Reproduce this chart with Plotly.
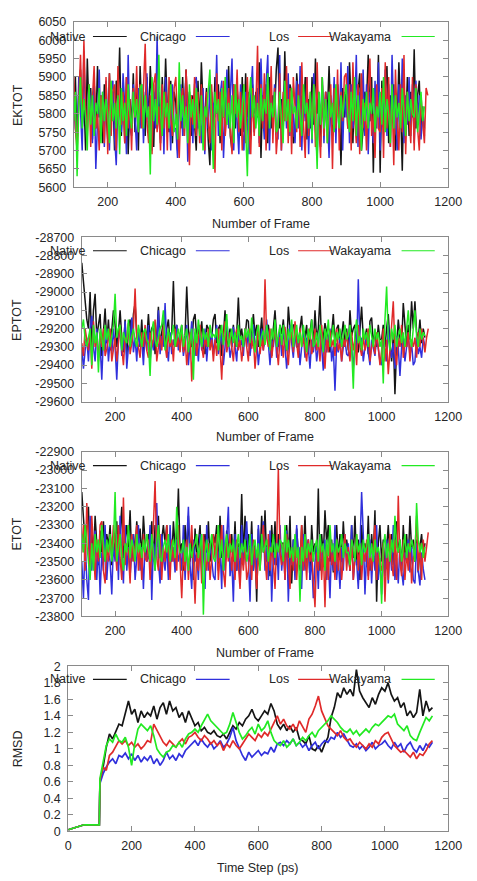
import plotly.graph_objects as go

# ---------------- data ----------------
series_names = ["Native", "Chicago", "Los", "Wakayama"]
series_colors = ["#151515", "#3030dc", "#e02a2a", "#22ea22"]

frames = list(range(100, 1131, 5))          # 207 frames
frames_los = list(range(100, 1141, 5))      # 209 frames (Los runs a bit longer)

ektot_native = [
    5780,5900,5720,5860,5920,5760,5840,5700,5950,5800,5870,5730,5890,5760,5930,5790,5850,5720,5880,5810,
    5730,5910,5780,5860,5700,5890,5820,5980,5740,5870,5720,5900,5690,5840,5770,5910,5750,5880,5700,5930,
    5800,5860,5740,5900,5770,5930,5830,5710,5880,5760,5860,5720,5900,5780,5950,5810,5750,5890,5720,5860,
    5830,5700,5880,5760,5900,5740,5920,5800,5860,5740,5850,5780,5700,5890,5760,5940,5820,5790,5870,5730,
    5660,5860,5760,5900,5800,5880,5720,5840,5790,5870,5780,5930,5740,5700,5880,5760,5870,5800,5740,5900,
    5750,5910,5790,5860,5730,5880,5800,5860,5790,5940,5680,5850,5760,5880,5720,5900,5760,5850,5800,5920,
    5980,5760,5840,5740,5970,5800,5780,5880,5860,5720,5740,5910,5830,5760,5850,5790,5900,5730,5840,5760,
    5900,5770,5950,5800,5860,5710,5880,5760,5860,5800,5930,5790,5740,5880,5760,5880,5820,5660,5870,5790,
    5870,5760,5940,5820,5720,5890,5780,5860,5910,5700,5760,5860,5830,5960,5780,5900,5640,5870,5800,5960,
    5640,5890,5770,5860,5930,5720,5850,5780,5880,5700,5760,5940,5820,5645,5880,5760,5900,5740,5860,5790,
    5975,5760,5850,5890,5740,5820,5760]
ektot_chicago = [
    5850,5760,5720,5900,5810,5700,5970,5780,5760,5880,5820,5720,5900,5650,5780,5920,5740,5860,5710,5890,
    5780,5700,5860,5890,5740,5660,5850,5790,5750,5910,5820,5690,5960,5760,5740,5880,5800,5700,5870,5760,
    5880,5720,5840,5910,5760,5800,5700,5860,5760,6010,5790,5730,5870,5690,5900,5780,5820,5700,5880,5760,
    5760,5680,5860,5880,5740,5820,5910,5670,5780,5850,5720,5880,5900,5760,5800,5720,5870,5690,5840,5760,
    5880,5700,5830,5790,5960,5740,5850,5890,5680,5800,5920,5760,5840,5950,5700,5860,5780,5690,5880,5760,
    5700,5860,5780,5690,5850,5930,5750,5820,5870,5720,5950,5800,5730,5880,5960,5700,5850,5780,5880,5760,
    5730,5960,5700,5840,5880,5760,5910,5740,5850,5800,5720,5890,5760,5930,5700,5860,5780,5900,5690,5850,
    5720,5910,5760,5680,5850,5770,5900,5720,5860,5800,5680,5850,5770,5900,5720,5880,5750,5940,5700,5860,
    5790,5930,5720,5880,5760,5800,5960,5710,5860,5770,5920,5740,5880,5690,5860,5780,5720,5890,5760,5940,
    5700,5860,5780,5920,5740,5880,5710,5960,5790,5840,5700,5880,5760,5950,5720,5850,5770,5900,5740,5880,
    5720,5890,5780,5850,5730,5800,5740]
ektot_los = [
    5900,5760,5700,5860,5960,5780,6000,5820,5740,5880,5710,5840,5930,5760,5800,5700,5850,5790,5720,5900,
    5690,5910,5740,5860,5880,5700,5930,5800,5770,5860,5720,5900,5760,5840,5700,5870,5790,5930,5750,5880,
    5760,5870,5990,5780,5720,5850,5690,5880,5910,5750,5820,5700,5880,5760,5860,5700,5900,5790,5740,5870,
    5900,5760,5680,5830,5870,5740,5920,5800,5660,5850,5770,5900,5740,5860,5720,5880,5780,5700,5860,5800,
    5720,5880,5760,5640,5910,5780,5860,5700,5890,5740,5800,5870,5760,5690,5880,5800,5920,5750,5860,5700,
    5880,5720,5900,5760,5690,5870,5740,5820,5985,5710,5880,5760,5910,5700,5860,5780,5930,5720,5870,5690,
    5760,5910,5700,5860,5780,5930,5720,5870,5690,5900,5820,5750,5880,5710,5940,5770,5680,5900,5740,5860,
    5750,5880,5710,5940,5770,5680,5900,5740,5860,5720,5800,5880,5650,5870,5760,5920,5700,5860,5780,5900,
    5910,5760,5880,5700,5940,5790,5720,5880,5690,5910,5760,5830,5700,5870,5950,5740,5800,5680,5880,5760,
    5750,5870,5680,5940,5760,5900,5710,5860,5660,5920,5780,5700,5880,5750,5960,5690,5860,5800,5720,5900,
    5700,5880,5760,5700,5850,5780,5720,5870,5850]
ektot_wakayama = [
    5780,5860,5630,5820,5900,5760,5840,5790,5700,5880,5770,5850,5740,5830,5800,5870,5720,5860,5780,5840,
    5800,5720,5890,5780,5830,5760,5850,5690,5870,5780,5830,5740,5880,5800,5760,5860,5790,5840,5750,5870,
    5880,5760,5850,5790,5820,5635,5900,5780,5840,5770,5960,5800,5740,5860,5790,5830,5760,5880,5800,5750,
    5800,5730,5940,5780,5850,5760,5820,5720,5880,5790,5840,5760,5870,5800,5740,5850,5700,5820,5790,5860,
    5920,5780,5650,5860,5800,5840,5740,5870,5790,5900,5770,5830,5760,5850,5720,5880,5790,5840,5760,5820,
    5880,5760,5630,5840,5900,5790,5850,5760,5830,5740,5870,5780,5840,5800,5910,5760,5830,5790,5860,5750,
    5760,5860,5800,5720,5890,5780,5840,5750,5870,5800,5820,5760,5850,5790,5740,5880,5800,5830,5760,5860,
    5730,5880,5790,5650,5860,5770,5900,5760,5840,5720,5860,5790,5830,5750,5880,5800,5760,5850,5790,5840,
    5880,5800,5750,5860,5780,5900,5740,5850,5790,5700,5840,5780,5860,5760,5830,5800,5870,5750,5820,5790,
    5860,5770,5900,5750,5840,5800,5720,5880,5760,5850,5790,5830,5760,5870,5800,5740,5860,5780,5840,5800,
    5790,5870,5750,5820,5860,5780,5820]

eptot_native = [
    -28840,-28950,-29050,-29150,-29200,-29000,-29300,-29100,-29010,-29250,-29180,-29120,-29350,-29200,-29090,-29280,-29150,-29320,-29200,-29100,
    -29180,-29300,-29220,-29100,-29250,-29330,-29150,-29350,-29200,-29150,-29280,-29120,-29060,-29240,-29220,-29300,-29150,-29330,-29200,-29260,
    -29120,-29260,-29200,-29180,-29340,-29240,-29080,-29300,-29220,-29160,-29300,-29200,-29150,-29280,-29220,-28940,-29250,-29180,-29300,-29230,
    -29180,-29320,-29240,-28970,-29200,-29280,-29300,-29150,-29120,-29260,-29200,-29260,-29160,-29300,-29340,-29180,-29200,-29280,-29240,-29150,
    -29120,-29280,-29200,-29180,-29350,-29240,-29100,-29300,-29260,-29200,-29300,-29180,-29300,-29230,-29030,-29250,-29200,-29300,-29250,-29150,
    -29160,-29330,-29220,-29120,-29240,-29180,-29300,-29250,-29140,-29300,-29270,-29200,-29180,-29260,-29350,-29200,-29100,-29250,-29300,-29180,
    -29230,-29150,-29280,-29320,-29080,-29200,-29260,-29180,-29180,-29300,-29300,-29200,-29130,-29280,-29250,-29180,-29340,-29220,-29150,-29300,
    -29100,-29260,-29200,-29020,-29300,-29250,-29170,-29220,-29250,-29330,-29200,-29120,-29280,-29200,-29180,-29300,-29240,-29160,-29300,-29200,
    -29320,-29100,-29240,-29200,-29180,-29300,-29330,-29200,-29080,-29260,-29250,-29200,-29340,-29160,-29140,-29280,-29220,-29300,-29180,-29260,
    -29260,-29180,-29300,-29200,-29120,-29280,-29380,-29240,-29560,-29300,-29150,-29250,-29300,-29060,-29200,-29300,-29180,-29260,-29050,-29200,
    -29050,-29220,-29260,-29150,-29280,-29200,-29250]
eptot_chicago = [
    -29300,-29420,-29320,-29250,-29380,-29200,-29130,-29300,-29380,-29200,-29360,-29280,-29480,-29240,-29320,-29200,-29380,-29260,-29340,-29200,
    -29300,-29480,-29260,-29200,-29350,-29300,-29160,-29420,-29300,-29280,-29140,-29330,-29250,-29380,-29200,-29300,-29260,-29400,-29220,-29320,
    -29180,-29380,-29260,-29320,-29200,-29300,-29100,-29340,-29240,-29300,-29060,-29300,-29380,-29220,-29340,-29260,-29300,-29180,-29320,-29250,
    -29220,-29350,-29280,-29180,-29400,-29260,-29160,-29300,-29350,-29250,-29380,-29200,-29320,-29280,-29200,-29380,-29260,-29300,-29220,-29340,
    -29260,-29180,-29340,-29280,-29220,-29400,-29300,-29150,-29280,-29360,-29300,-29190,-29300,-29380,-29220,-29300,-29260,-29350,-29200,-29300,
    -29220,-29350,-29260,-29180,-29300,-29260,-29400,-29300,-29200,-29320,-29250,-29150,-29280,-29400,-29260,-29300,-29200,-29360,-29280,-29220,
    -29350,-29200,-29300,-29420,-29300,-29180,-29280,-29360,-29220,-29300,-29240,-29400,-29300,-29220,-29360,-29250,-29300,-29420,-29260,-29330,
    -29250,-29380,-29300,-29180,-29300,-29430,-29220,-29330,-29260,-29200,-29380,-29300,-29540,-29280,-29330,-29250,-29380,-29300,-29260,-29340,
    -29350,-29200,-29300,-29420,-29280,-29320,-28930,-29300,-29250,-29380,-29300,-29220,-29330,-29400,-29260,-29300,-29350,-29240,-29300,-29380,
    -29400,-29250,-29320,-29380,-29180,-29300,-29360,-29280,-29420,-29240,-29300,-29460,-29300,-29250,-29380,-29300,-29220,-29350,-29280,-29400,
    -29380,-29240,-29340,-29300,-29360,-29250,-29300]
eptot_los = [
    -29280,-29350,-29200,-29250,-29320,-29200,-29420,-29160,-29300,-29250,-29380,-29220,-29300,-29200,-29350,-29310,-29260,-29200,-29380,-29300,
    -29250,-29380,-29280,-29180,-29300,-29400,-29250,-29260,-29170,-29340,-29280,-29200,-28980,-29250,-29300,-29360,-29220,-29300,-29180,-29320,
    -29360,-29220,-29300,-29260,-29150,-29380,-29300,-29240,-29320,-29180,-29290,-29360,-29220,-29300,-29260,-29380,-29200,-29300,-29250,-29330,
    -29200,-29330,-29250,-29400,-29300,-29220,-29490,-29300,-29220,-29350,-29260,-29180,-29300,-29360,-29250,-29300,-29200,-29320,-29260,-29380,
    -29260,-29350,-29200,-29300,-29480,-29250,-29160,-29330,-29280,-29220,-29300,-29380,-29250,-29200,-29320,-29260,-29380,-29300,-29200,-29300,
    -29380,-29200,-29310,-29250,-29420,-29300,-29180,-29340,-29260,-29320,-28930,-29250,-29300,-29200,-29360,-29280,-29190,-29300,-29400,-29250,
    -29250,-29360,-29190,-29300,-29400,-29260,-29220,-29330,-29160,-29280,-29360,-29200,-29300,-29250,-29320,-29380,-29260,-29200,-29340,-29300,
    -29200,-29320,-29260,-29380,-29180,-29300,-29420,-29240,-29330,-29210,-29300,-29260,-29350,-29200,-29320,-29280,-29380,-29250,-29300,-29220,
    -29300,-29380,-29220,-29320,-29260,-29400,-29180,-29300,-29350,-29240,-29320,-29280,-29200,-29380,-29300,-29260,-29340,-29220,-29300,-29400,
    -29320,-29200,-29380,-29260,-29450,-29300,-29200,-29050,-29320,-29400,-29250,-29300,-29180,-29360,-29280,-29300,-29220,-29380,-29260,-29300,
    -29250,-29360,-29220,-29300,-29200,-29280,-29330,-29250,-29200]
eptot_wakayama = [
    -29200,-29150,-29260,-29300,-29250,-29200,-29400,-29180,-29280,-29220,-29440,-29200,-29250,-29320,-29180,-29260,-29200,-29300,-29240,-29180,
    -29010,-29250,-29200,-29180,-29320,-29220,-29260,-29280,-29150,-29300,-29240,-29200,-29260,-29300,-29180,-29240,-29300,-29220,-29200,-29260,
    -29280,-29460,-29220,-29160,-29260,-29300,-29240,-29200,-29180,-29100,-29320,-29250,-29200,-29280,-29230,-29180,-29300,-29240,-29200,-29260,
    -29180,-29300,-29240,-29200,-29330,-29260,-29200,-29480,-29200,-29280,-29150,-29240,-29300,-29200,-29260,-29220,-29300,-29180,-29250,-29230,
    -29250,-29200,-29320,-29240,-29180,-29290,-29230,-29120,-29300,-29260,-29200,-29280,-29220,-29300,-29180,-29260,-29240,-29300,-29200,-29250,
    -29200,-29280,-29140,-29260,-29330,-29220,-29180,-29300,-29240,-29210,-29290,-29180,-29250,-29320,-29200,-29260,-29150,-29300,-29240,-29180,
    -29290,-29180,-29250,-29320,-29200,-29260,-29150,-29300,-29240,-29180,-29280,-29220,-29300,-29180,-29250,-29330,-29200,-29260,-29150,-29300,
    -29280,-29220,-29300,-29180,-29250,-29330,-29200,-29260,-29150,-29300,-29240,-29180,-29300,-29220,-29260,-29200,-29300,-29240,-29180,-29260,
    -29240,-29180,-29300,-29530,-29220,-29150,-29280,-29240,-29320,-29200,-29260,-29220,-29300,-29180,-29250,-29300,-29200,-29260,-29220,-29300,
    -29260,-29500,-29150,-28970,-29250,-29320,-29200,-29260,-29180,-29300,-29240,-29200,-29280,-29220,-29300,-29180,-29100,-29240,-29300,-29200,
    -29100,-29240,-29300,-29200,-29260,-29220,-29240]

etot_native = [
    -23120,-23250,-23400,-23300,-23200,-23550,-23300,-23480,-23250,-23400,-23520,-23330,-23450,-23280,-23500,-23350,-23420,-23300,-23520,-23380,
    -23450,-23280,-23520,-23350,-23200,-23480,-23380,-23300,-23420,-23220,-23500,-23350,-23450,-23280,-23400,-23320,-23480,-23250,-23400,-23500,
    -23350,-23450,-23280,-23500,-23300,-23420,-23250,-23480,-23380,-23300,-23400,-23300,-23450,-23350,-23500,-23280,-23420,-23380,-23100,-23450,
    -23400,-23550,-23300,-23450,-23250,-23500,-23380,-23600,-23320,-23480,-23400,-23300,-23550,-23420,-23350,-23450,-23280,-23500,-23400,-23350,
    -23400,-23300,-23550,-23250,-23480,-23380,-23520,-23330,-23400,-23450,-23350,-23500,-23280,-23550,-23400,-23460,-23130,-23480,-23250,-23450,
    -23350,-23500,-23280,-23550,-23400,-23720,-23320,-23480,-23250,-23450,-23220,-23500,-23380,-23580,-23300,-23460,-23280,-23520,-23350,-23450,
    -23400,-23400,-23550,-23300,-23480,-23250,-23620,-23380,-23500,-23320,-23450,-23550,-23300,-23480,-23250,-23520,-23380,-23600,-23300,-23450,
    -23400,-23500,-23100,-23550,-23350,-23480,-23220,-23400,-23300,-23500,-23380,-23560,-23420,-23300,-23480,-23350,-23500,-23280,-23450,-23380,
    -23450,-23550,-23300,-23480,-23250,-23520,-23380,-23600,-23300,-23450,-23400,-23500,-23250,-23550,-23350,-23480,-23220,-23720,-23400,-23300,
    -23500,-23380,-23560,-23420,-23300,-23480,-23350,-23520,-23400,-23280,-23450,-23380,-23550,-23300,-23470,-23350,-23500,-23250,-23430,-23380,
    -23500,-23380,-23560,-23420,-23350,-23480,-23400]
etot_chicago = [
    -23500,-23700,-23380,-23600,-23710,-23250,-23550,-23400,-23330,-23600,-23400,-23680,-23450,-23550,-23300,-23600,-23450,-23500,-23680,-23400,
    -23500,-23350,-23600,-23250,-23480,-23620,-23300,-23550,-23420,-23580,-23450,-23350,-23600,-23480,-23300,-23550,-23420,-23650,-23400,-23500,
    -23480,-23300,-23710,-23400,-23550,-23180,-23500,-23620,-23350,-23480,-23550,-23400,-23600,-23300,-23500,-23420,-23560,-23380,-23500,-23450,
    -23550,-23300,-23600,-23420,-23200,-23520,-23650,-23380,-23500,-23450,-23600,-23350,-23500,-23420,-23650,-23300,-23550,-23400,-23480,-23580,
    -23600,-23350,-23500,-23420,-23650,-23300,-23550,-23400,-23200,-23580,-23480,-23720,-23350,-23550,-23420,-23600,-23300,-23520,-23400,-23280,
    -23480,-23720,-23350,-23550,-23420,-23600,-23300,-23520,-23400,-23280,-23550,-23420,-23600,-23330,-23720,-23450,-23520,-23380,-23600,-23300,
    -23550,-23420,-23600,-23330,-23720,-23450,-23520,-23380,-23600,-23300,-23500,-23420,-23650,-23350,-23550,-23450,-23380,-23600,-23480,-23700,
    -23500,-23420,-23650,-23350,-23550,-23450,-23380,-23600,-23480,-23700,-23400,-23550,-23300,-23600,-23480,-23650,-23420,-23550,-23350,-23500,
    -23400,-23550,-23300,-23600,-23480,-23500,-23650,-23420,-23120,-23350,-23680,-23450,-23580,-23380,-23620,-23420,-23550,-23300,-23600,-23480,
    -23680,-23450,-23580,-23380,-23620,-23420,-23550,-23300,-23600,-23480,-23620,-23400,-23550,-23630,-23450,-23500,-23380,-23560,-23420,-23600,
    -23620,-23400,-23550,-23630,-23450,-23540,-23600]
etot_los = [
    -23450,-23300,-23550,-23180,-23400,-23550,-23250,-23450,-23600,-23380,-23500,-23300,-23280,-23550,-23620,-23400,-23500,-23350,-23450,-23300,
    -23400,-23550,-23300,-23480,-23600,-23150,-23520,-23400,-23450,-23620,-23350,-23500,-23420,-23300,-23550,-23400,-23600,-23350,-23480,-23500,
    -23380,-23600,-23450,-23300,-23060,-23480,-23550,-23350,-23600,-23420,-23500,-23300,-23450,-23600,-23380,-23500,-23420,-23550,-23300,-23480,
    -23700,-23450,-23550,-23380,-23600,-23450,-23300,-23500,-23730,-23450,-23550,-23400,-23620,-23350,-23480,-23550,-23400,-23600,-23450,-23350,
    -23480,-23350,-23600,-23450,-23300,-23550,-23640,-23400,-23500,-23350,-23550,-23420,-23600,-23380,-23500,-23650,-23450,-23550,-23400,-23600,
    -23550,-23420,-23600,-23380,-23500,-23650,-23450,-23550,-23400,-23300,-23480,-23600,-23350,-23550,-23420,-23500,-23650,-23400,-22990,-23450,
    -23520,-23400,-23600,-23350,-23500,-23650,-23420,-23550,-23380,-23600,-23450,-23520,-23300,-23550,-23420,-23600,-23380,-23500,-23450,-23600,
    -23750,-23450,-23550,-23380,-23600,-23420,-23750,-23400,-23600,-23350,-23520,-23450,-23600,-23380,-23550,-23420,-23600,-23480,-23350,-23550,
    -23420,-23550,-23380,-23600,-23480,-23350,-23550,-23420,-23600,-23450,-23500,-23380,-23600,-23450,-23550,-23400,-23300,-23600,-23450,-23520,
    -23550,-23400,-23720,-23450,-23600,-23350,-23500,-23580,-23380,-23600,-23140,-23500,-23580,-23380,-23600,-23450,-23550,-23400,-23620,-23480,
    -23450,-23250,-23550,-23400,-23600,-23380,-23500,-23420,-23340]
etot_wakayama = [
    -23350,-23450,-23300,-23400,-23500,-23600,-23400,-23550,-23350,-23450,-23380,-23480,-23300,-23420,-23500,-23380,-23450,-23350,-23500,-23400,
    -23120,-23500,-23420,-23350,-23480,-23550,-23400,-23450,-23300,-23480,-23380,-23420,-23500,-23350,-23450,-23400,-23480,-23380,-23450,-23350,
    -23420,-23500,-23350,-23450,-23550,-23400,-23300,-23480,-23500,-23420,-23380,-23450,-23350,-23500,-23420,-23380,-23480,-23200,-23400,-23450,
    -23450,-23380,-23500,-23420,-23550,-23400,-23480,-23420,-23400,-23350,-23480,-23420,-23350,-23790,-23450,-23380,-23500,-23420,-23350,-23480,
    -23500,-23420,-23300,-23480,-23380,-23550,-23420,-23350,-23480,-23400,-23450,-23380,-23500,-23420,-23350,-23480,-23400,-23450,-23380,-23500,
    -23450,-23350,-23520,-23420,-23380,-23480,-23400,-23550,-23350,-23450,-23420,-23380,-23500,-23420,-23450,-23350,-23480,-23400,-23450,-23380,
    -23400,-23500,-23300,-23450,-23380,-23480,-23420,-23500,-23350,-23480,-23420,-23720,-23420,-23500,-23350,-23480,-23400,-23450,-23380,-23500,
    -23420,-23380,-23500,-23350,-23450,-23400,-23550,-23380,-23470,-23300,-23450,-23400,-23500,-23380,-23450,-23420,-23350,-23480,-23400,-23450,
    -23450,-23520,-23380,-23420,-23500,-23350,-23450,-23400,-23520,-23380,-23450,-23420,-23350,-23480,-23400,-23500,-23380,-23450,-23420,-23480,
    -23730,-23420,-23350,-23480,-23400,-23500,-23380,-23450,-23250,-23420,-23450,-23380,-23500,-23420,-23350,-23480,-23400,-23450,-23380,-23420,
    -23500,-23180,-23380,-23450,-23400,-23480,-23420]

rmsd_time = [0, 25, 50, 75, 98] + list(range(100, 1151, 10))   # 111 points
rmsd_native = [0.02, 0.05, 0.08, 0.08, 0.08,
               0.60, 0.78, 1.02, 1.18, 1.12, 1.22, 1.30, 1.28, 1.45, 1.58,
               1.42, 1.48, 1.32, 1.46, 1.38, 1.44, 1.40, 1.52, 1.36, 1.50,
               1.56, 1.42, 1.58, 1.46, 1.50, 1.38, 1.44, 1.32, 1.46, 1.36,
               1.28, 1.32, 1.22, 1.26, 1.20, 1.18, 1.22, 1.16, 1.14, 1.18,
               1.12, 1.20, 1.28, 1.24, 1.32, 1.28, 1.36, 1.40, 1.48, 1.38,
               1.34, 1.40, 1.46, 1.42, 1.55, 1.46, 1.30, 1.24, 1.30, 1.22,
               1.28, 1.20, 1.26, 1.12, 1.10, 1.06, 1.16, 1.00, 0.98, 1.04,
               0.96, 1.06, 1.14, 1.38, 1.50, 1.68, 1.62, 1.74, 1.66, 1.72,
               1.64, 1.96, 1.70, 1.62, 1.56, 1.50, 1.62, 1.54, 1.66, 1.74,
               1.70, 1.80, 1.66, 1.58, 1.62, 1.50, 1.56, 1.40, 1.46, 1.38,
               1.44, 1.72, 1.40, 1.58, 1.46, 1.50]
rmsd_chicago = [0.02, 0.05, 0.08, 0.08, 0.08,
                0.58, 0.70, 0.78, 0.84, 0.88, 0.82, 0.92, 0.90, 0.95, 0.88,
                0.94, 0.86, 0.92, 0.84, 0.90, 0.86, 0.92, 0.82, 0.88, 0.80,
                0.86, 0.96, 0.88, 0.92, 0.86, 0.94, 0.90, 0.98, 1.02, 1.06,
                1.10, 1.04, 1.12, 1.06, 1.02, 1.08, 1.00, 1.04, 1.10, 1.02,
                1.06, 1.14, 1.26, 1.10, 1.00, 0.92, 0.86, 0.96, 0.90, 0.94,
                0.98, 0.92, 0.96, 0.94, 1.02, 0.96, 1.06, 1.08, 1.04, 1.10,
                1.06, 1.12, 1.04, 1.08, 1.02, 1.06, 0.98, 1.04, 1.08, 1.00,
                1.06, 1.10, 1.08, 1.14, 1.12, 1.20, 1.14, 1.18, 1.10, 1.04,
                1.02, 1.06, 1.00, 1.04, 0.98, 1.02, 1.08, 1.00, 1.04, 1.06,
                1.10, 1.04, 1.00, 1.08, 1.02, 1.06, 0.96, 1.04, 1.08, 1.00,
                0.96, 1.04, 0.98, 1.06, 1.02, 1.08]
rmsd_los = [0.02, 0.05, 0.08, 0.08, 0.08,
            0.62, 0.78, 0.74, 0.92, 0.96, 1.04, 1.10, 1.06, 1.10, 1.04,
            1.08, 1.02, 1.06, 1.00, 1.04, 1.10, 1.08, 1.30, 1.22, 1.16,
            1.08, 1.04, 1.10, 1.06, 1.02, 1.08, 1.12, 1.06, 1.14, 1.16,
            1.20, 1.14, 1.10, 1.16, 1.12, 1.06, 1.10, 1.04, 1.08, 0.98,
            1.06, 1.02, 1.10, 1.04, 1.00, 1.06, 1.12, 1.18, 1.14, 1.10,
            1.18, 1.14, 1.20, 1.16, 1.24, 1.32, 1.40, 1.30, 1.36, 1.28,
            1.24, 1.30, 1.22, 1.34, 1.26, 1.20, 1.36, 1.42, 1.52, 1.64,
            1.46, 1.38, 1.28, 1.24, 1.20, 1.16, 1.22, 1.14, 1.10, 1.12,
            1.06, 1.02, 1.08, 1.04, 1.00, 1.06, 1.02, 1.10, 1.06, 1.14,
            1.18, 1.20, 1.12, 1.04, 1.00, 0.96, 0.98, 0.94, 0.90, 0.96,
            0.88, 0.94, 0.92, 0.98, 1.06, 1.10]
rmsd_wakayama = [0.02, 0.05, 0.08, 0.08, 0.08,
                 0.64, 0.82, 1.04, 1.12, 1.08, 1.18, 1.10, 1.08, 1.14, 1.02,
                 0.80, 1.06, 1.24, 1.30, 1.26, 1.22, 1.28, 1.16, 1.00, 0.94,
                 0.90, 0.96, 0.98, 1.04, 1.02, 1.08, 1.02, 1.12, 1.18, 1.20,
                 1.24, 1.20, 1.28, 1.36, 1.42, 1.34, 1.30, 1.26, 1.22, 1.18,
                 1.20, 1.30, 1.44, 1.32, 1.20, 1.12, 1.16, 1.22, 1.26, 1.18,
                 1.30, 1.22, 1.26, 1.34, 1.20, 1.10, 1.06, 1.04, 1.10, 1.02,
                 1.06, 1.12, 1.04, 1.08, 1.14, 1.10, 1.16, 1.20, 1.14, 1.22,
                 1.26, 1.30, 1.34, 1.40, 1.36, 1.32, 1.26, 1.22, 1.20, 1.24,
                 1.18, 1.22, 1.16, 1.20, 1.24, 1.20, 1.26, 1.30, 1.28, 1.32,
                 1.36, 1.40, 1.38, 1.42, 1.30, 1.26, 1.22, 1.28, 1.16, 1.12,
                 1.10, 1.20, 1.30, 1.38, 1.34, 1.40]

ektot_ticks = [5600, 5650, 5700, 5750, 5800, 5850, 5900, 5950, 6000, 6050]
ektot_labels = ["5600", "5650", "5700", "5750", "5800", "5850", "5900", "5950", "6000", "6050"]
eptot_ticks = [-29600, -29500, -29400, -29300, -29200, -29100, -29000, -28900, -28800, -28700]
eptot_labels = ["-29600", "-29500", "-29400", "-29300", "-29200", "-29100", "-29000", "-28900", "-28800", "-28700"]
etot_ticks = [-23800, -23700, -23600, -23500, -23400, -23300, -23200, -23100, -23000, -22900]
etot_labels = ["-23800", "-23700", "-23600", "-23500", "-23400", "-23300", "-23200", "-23100", "-23000", "-22900"]
rmsd_ticks = [0, 0.2, 0.4, 0.6, 0.8, 1, 1.2, 1.4, 1.6, 1.8, 2]
rmsd_labels = ["0", "0.2", "0.4", "0.6", "0.8", "1", "1.2", "1.4", "1.6", "1.8", "2"]
frame_ticks = [200, 400, 600, 800, 1000, 1200]
frame_labels = ["200", "400", "600", "800", "1000", "1200"]
time_ticks = [0, 200, 400, 600, 800, 1000, 1200]
time_labels = ["0", "200", "400", "600", "800", "1000", "1200"]

# ---------------- layout helpers ----------------
W, H = 477, 881
def fx(p):
    return p / W
def fy(p):
    return 1 - p / H

FONT = "Liberation Sans, Arial, sans-serif"
TXT = "#262626"
AX = "#8a8a8a"

panels = [
    dict(left=73.3, top=15.0, bottom=183.3, xr=[100, 1200], yr=[5600, 6050],
         xt=frame_ticks, xl=frame_labels, yt=ektot_ticks, yl=ektot_labels,
         ytitle="EKTOT", xtitle="Number of Frame", xtitle_y=220.0, leg_y=30.0,
         data=[(frames, ektot_native), (frames, ektot_chicago), (frames_los, ektot_los), (frames, ektot_wakayama)],
         lw=1.5),
    dict(left=81.7, top=234.0, bottom=401.0, xr=[100, 1200], yr=[-29600, -28700],
         xt=frame_ticks, xl=frame_labels, yt=eptot_ticks, yl=eptot_labels,
         ytitle="EPTOT", xtitle="Number of Frame", xtitle_y=437.0, leg_y=247.7,
         data=[(frames, eptot_native), (frames, eptot_chicago), (frames_los, eptot_los), (frames, eptot_wakayama)],
         lw=1.5),
    dict(left=81.7, top=452.0, bottom=619.3, xr=[100, 1200], yr=[-23800, -22900],
         xt=frame_ticks, xl=frame_labels, yt=etot_ticks, yl=etot_labels,
         ytitle="ETOT", xtitle="Number of Frame", xtitle_y=656.0, leg_y=466.0,
         data=[(frames, etot_native), (frames, etot_chicago), (frames_los, etot_los), (frames, etot_wakayama)],
         lw=1.5),
    dict(left=67.7, top=670.0, bottom=837.7, xr=[0, 1200], yr=[0, 2],
         xt=time_ticks, xl=time_labels, yt=rmsd_ticks, yl=rmsd_labels,
         ytitle="RMSD", xtitle="Time Step (ps)", xtitle_y=874.5, leg_y=683.3,
         data=[(rmsd_time, rmsd_native), (rmsd_time, rmsd_chicago), (rmsd_time, rmsd_los), (rmsd_time, rmsd_wakayama)],
         lw=1.7),
]
RIGHT = 461.7

# legend geometry (text right edge, line start, line end) in pixels
legend_items = [(87.0, 93.3, 128.3), (192.3, 200.0, 235.0), (299.0, 306.0, 341.7), (404.5, 413.3, 447.7)]

fig = go.Figure()
layout = dict(width=W, height=H, margin=dict(l=0, r=0, t=0, b=0),
              paper_bgcolor="white", plot_bgcolor="white", showlegend=False,
              font=dict(family=FONT, size=12.5, color=TXT))
annotations = []
shapes = []

for i, p in enumerate(panels):
    n = i + 1
    xa = "x" if n == 1 else f"x{n}"
    ya = "y" if n == 1 else f"y{n}"
    for (xs, ys), name, col in zip(p["data"], series_names, series_colors):
        fig.add_trace(go.Scatter(x=xs, y=ys, mode="lines", name=name,
                                 line=dict(color=col, width=p["lw"]),
                                 xaxis=xa, yaxis=ya, showlegend=False))
    axcommon = dict(showgrid=False, zeroline=False, showline=True, linecolor=AX, linewidth=1,
                    mirror="ticks", ticks="inside", ticklen=5, tickcolor=AX, tickwidth=1,
                    tickfont=dict(family=FONT, size=12.5, color=TXT))
    layout[f"xaxis{'' if n == 1 else n}"] = dict(
        axcommon, domain=[fx(p["left"]), fx(RIGHT)], range=p["xr"], anchor=ya,
        tickmode="array", tickvals=p["xt"], ticktext=p["xl"], ticklabelstandoff=3)
    layout[f"yaxis{'' if n == 1 else n}"] = dict(
        axcommon, domain=[fy(p["bottom"]), fy(p["top"])], range=p["yr"], anchor=xa,
        tickmode="array", tickvals=p["yt"], ticktext=p["yl"], ticklabelstandoff=4)
    # axis titles
    annotations.append(dict(x=fx((p["left"] + RIGHT) / 2), y=fy(p["xtitle_y"]), xref="paper", yref="paper",
                            text=p["xtitle"], showarrow=False, xanchor="center", yanchor="middle",
                            font=dict(family=FONT, size=12.5, color=TXT)))
    annotations.append(dict(x=fx(15.0), y=fy((p["top"] + p["bottom"]) / 2), xref="paper", yref="paper",
                            text=p["ytitle"], showarrow=False, textangle=-90, xanchor="center", yanchor="middle",
                            font=dict(family=FONT, size=12.5, color=TXT)))
    # gnuplot-style key: label then sample line
    for (tx, l0, l1), name, col in zip(legend_items, series_names, series_colors):
        annotations.append(dict(x=fx(tx), y=fy(p["leg_y"]), xref="paper", yref="paper",
                                text=name, showarrow=False, xanchor="right", yanchor="middle",
                                font=dict(family=FONT, size=12.5, color=TXT)))
        shapes.append(dict(type="line", xref="paper", yref="paper",
                           x0=fx(l0), x1=fx(l1), y0=fy(p["leg_y"]), y1=fy(p["leg_y"]),
                           line=dict(color=col, width=1.2)))

layout["annotations"] = annotations
layout["shapes"] = shapes
fig.update_layout(**layout)
fig.write_html("out.html", config={"displayModeBar": False},
               post_script="document.body.style.margin='0px';document.body.style.overflow='hidden';")
